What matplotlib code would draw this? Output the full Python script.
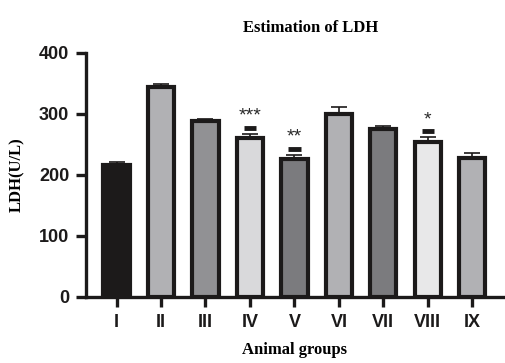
import numpy as np
import matplotlib.pyplot as plt

groups = ['I', 'II', 'III', 'IV', 'V', 'VI', 'VII', 'VIII', 'IX']
ldh = [217, 345, 288, 261, 227, 300, 275, 254, 228]
sem = [5, 4, 4, 6, 6, 12, 5, 8, 8]
colors = ['#1c1a1a', '#b1b1b4', '#919194', '#d9d9db', '#7b7b7e',
          '#b1b1b4', '#7b7b7e', '#e8e8e9', '#b1b1b4']
stars = {3: '***', 4: '**', 7: '*'}

fig = plt.figure(figsize=(5.05, 3.63), dpi=100)
ax = fig.add_axes([0.170, 0.182, 0.826, 0.672])

x = np.arange(len(groups))
ax.bar(x, ldh, width=0.59, color=colors, edgecolor='#1c1a1a', linewidth=3, zorder=3)
ax.errorbar(x, ldh, yerr=[np.zeros(len(sem)), sem], fmt='none', ecolor='#1c1a1a',
            elinewidth=1.2, capsize=6, capthick=1.2, zorder=2)

for i, s in stars.items():
    top = ldh[i] + sem[i]
    ax.plot([i - 0.14, i + 0.14], [top + 10, top + 10], color='#1c1a1a', lw=3.5,
            solid_capstyle='butt')
    ax.text(i, top + 15, s, ha='center', va='bottom', fontsize=14,
            family='Liberation Sans', color='#2a2a2a')

ax.set_xlim(-0.69, 8.69)
ax.set_ylim(0, 400)
ax.set_yticks([0, 100, 200, 300, 400])
ax.set_xticks(x)
ax.set_xticklabels(groups)

for sp in ['top', 'right']:
    ax.spines[sp].set_visible(False)
for sp in ['left', 'bottom']:
    ax.spines[sp].set_linewidth(2.4)
    ax.spines[sp].set_color('#1c1a1a')

ax.tick_params(axis='both', length=7, width=2.4, color='#1c1a1a', labelsize=13, pad=5)
for lab in ax.get_xticklabels() + ax.get_yticklabels():
    lab.set_fontfamily('Liberation Sans')
    lab.set_fontweight('bold')
    lab.set_color('#1c1a1a')

ax.set_title('Estimation of LDH', fontsize=12, fontweight='bold',
             family='Liberation Serif', pad=15, x=0.54)
ax.set_ylabel('LDH(U/L)', fontsize=12, fontweight='bold', family='Liberation Serif', labelpad=10)
ax.set_xlabel('Animal groups', fontsize=12, fontweight='bold', family='Liberation Serif', labelpad=8)

fig.savefig('out.png', dpi=100)
